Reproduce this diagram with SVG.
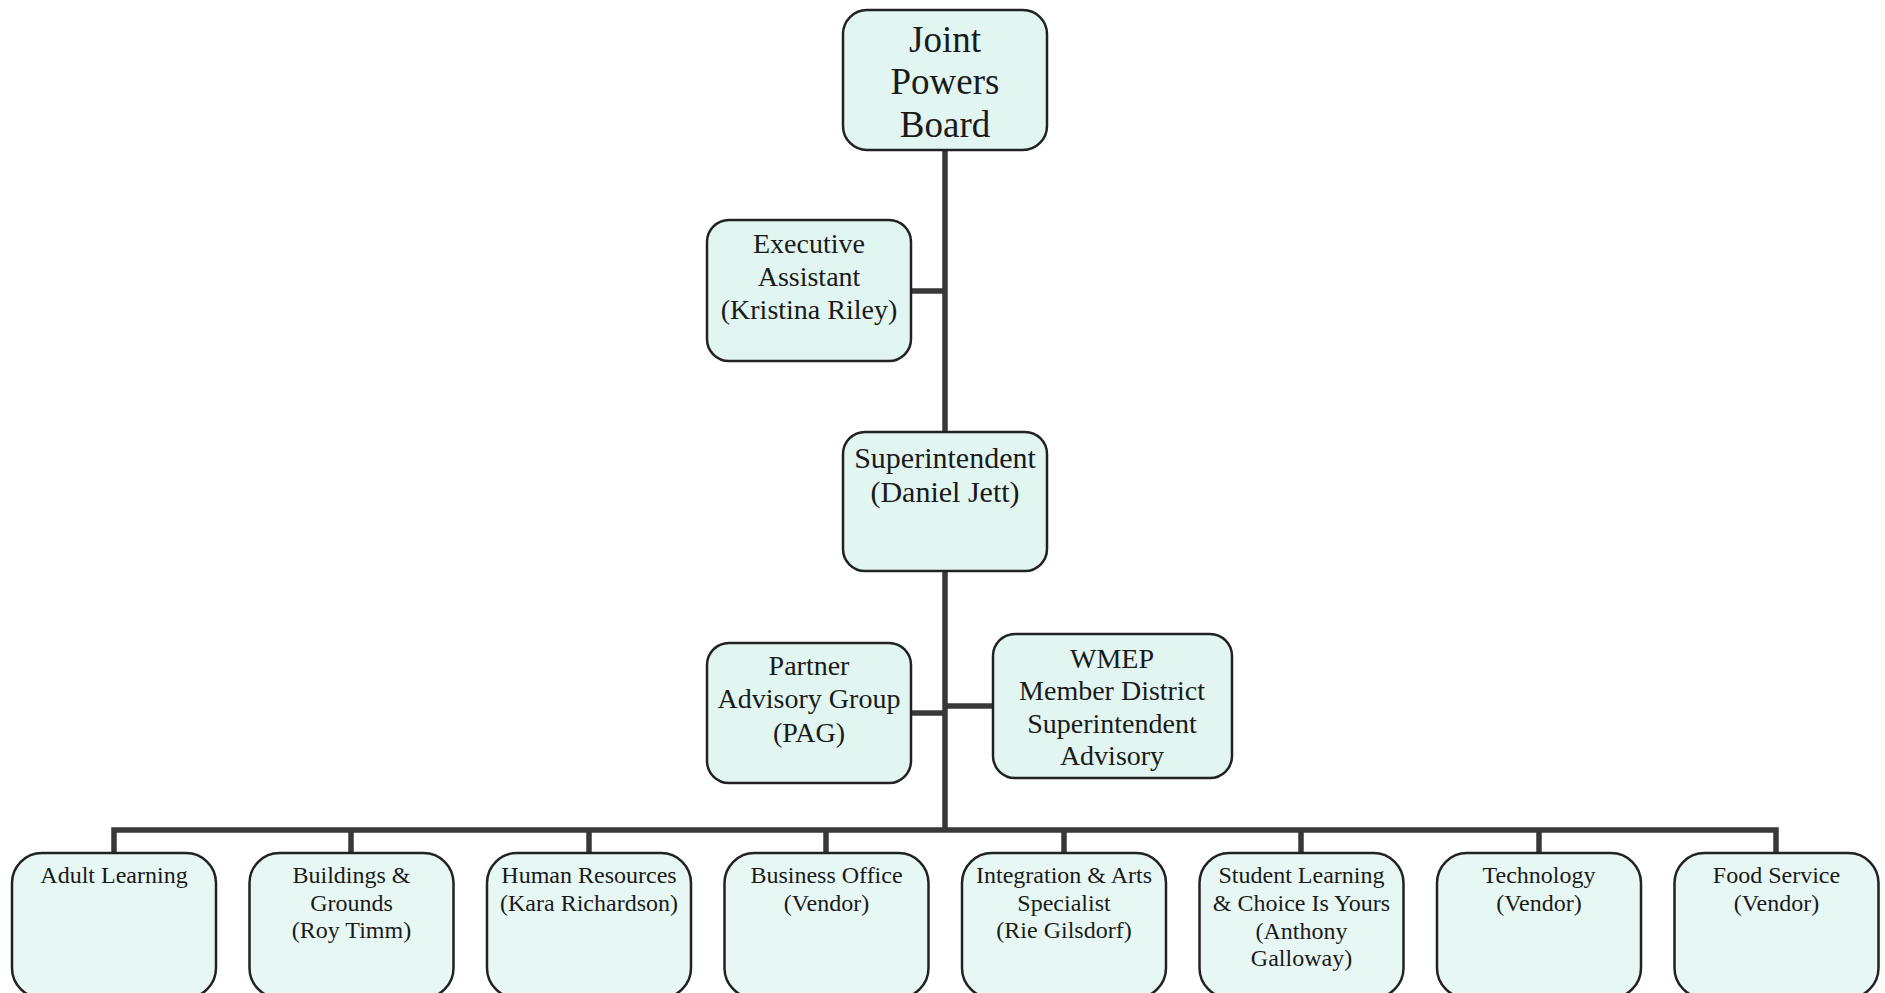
<svg xmlns="http://www.w3.org/2000/svg" width="1885" height="993" viewBox="0 0 1885 993">
<style>
.box{fill:#E1F5F1;stroke:#222;stroke-width:2.5}
.bbox{fill:#E7F7F3;stroke:#222;stroke-width:2.5}
.t{font-family:"Liberation Serif","Times New Roman",serif;fill:#1a1a1a;text-anchor:middle}
.big{font-size:37px}
.mid{font-size:28px}
.sup{font-size:30px}
.sm{font-size:24px}
.c{stroke:#383838;stroke-width:5.5;fill:none}
</style>
<rect width="1885" height="993" fill="#ffffff"/>
<g id="connectors">
<line class="c" x1="945" y1="150" x2="945" y2="432"/>
<line class="c" x1="945" y1="571" x2="945" y2="830"/>
<line class="c" x1="911" y1="291" x2="945" y2="291"/>
<line class="c" x1="911" y1="713" x2="945" y2="713"/>
<line class="c" x1="945" y1="706" x2="993" y2="706"/>
<polyline class="c" points="114,853 114,830 1776,830 1776,853"/>
<line class="c" x1="351" y1="830" x2="351" y2="853"/>
<line class="c" x1="589" y1="830" x2="589" y2="853"/>
<line class="c" x1="826" y1="830" x2="826" y2="853"/>
<line class="c" x1="1064" y1="830" x2="1064" y2="853"/>
<line class="c" x1="1301" y1="830" x2="1301" y2="853"/>
<line class="c" x1="1539" y1="830" x2="1539" y2="853"/>
</g>
<g id="joint-powers-board">
<rect class="box" x="843" y="10" width="204" height="140" rx="24"/>
<text class="t big" x="945" y="52">Joint</text>
<text class="t big" x="945" y="94">Powers</text>
<text class="t big" x="945" y="137">Board</text>
</g>
<g id="executive-assistant">
<rect class="box" x="707" y="220" width="204" height="141" rx="22"/>
<text class="t mid" x="809" y="253">Executive</text>
<text class="t mid" x="809" y="286">Assistant</text>
<text class="t mid" x="809" y="319">(Kristina Riley)</text>
</g>
<g id="superintendent">
<rect class="box" x="843" y="432" width="204" height="139" rx="22"/>
<text class="t sup" x="945" y="468">Superintendent</text>
<text class="t sup" x="945" y="502">(Daniel Jett)</text>
</g>
<g id="partner-advisory-group">
<rect class="box" x="707" y="643" width="204" height="140" rx="22"/>
<text class="t mid" x="809" y="675">Partner</text>
<text class="t mid" x="809" y="708">Advisory Group</text>
<text class="t mid" x="809" y="742">(PAG)</text>
</g>
<g id="wmep-advisory">
<rect class="box" x="993" y="634" width="239" height="144" rx="22"/>
<text class="t mid" x="1112" y="668">WMEP</text>
<text class="t mid" x="1112" y="700">Member District</text>
<text class="t mid" x="1112" y="733">Superintendent</text>
<text class="t mid" x="1112" y="765">Advisory</text>
</g>
<g id="adult-learning">
<rect class="bbox" x="12" y="853" width="204" height="145" rx="30"/>
<text class="t sm" x="114" y="883">Adult Learning</text>
</g>
<g id="buildings-grounds">
<rect class="bbox" x="249.5" y="853" width="204" height="145" rx="30"/>
<text class="t sm" x="351.5" y="883">Buildings &amp;</text>
<text class="t sm" x="351.5" y="910.5">Grounds</text>
<text class="t sm" x="351.5" y="938">(Roy Timm)</text>
</g>
<g id="human-resources">
<rect class="bbox" x="487" y="853" width="204" height="145" rx="30"/>
<text class="t sm" x="589" y="883">Human Resources</text>
<text class="t sm" x="589" y="910.5">(Kara Richardson)</text>
</g>
<g id="business-office">
<rect class="bbox" x="724.5" y="853" width="204" height="145" rx="30"/>
<text class="t sm" x="826.5" y="883">Business Office</text>
<text class="t sm" x="826.5" y="910.5">(Vendor)</text>
</g>
<g id="integration-arts">
<rect class="bbox" x="962" y="853" width="204" height="145" rx="30"/>
<text class="t sm" x="1064" y="883">Integration &amp; Arts</text>
<text class="t sm" x="1064" y="910.5">Specialist</text>
<text class="t sm" x="1064" y="938">(Rie Gilsdorf)</text>
</g>
<g id="student-learning">
<rect class="bbox" x="1199.5" y="853" width="204" height="145" rx="30"/>
<text class="t sm" x="1301.5" y="883">Student Learning</text>
<text class="t sm" x="1301.5" y="911">&amp; Choice Is Yours</text>
<text class="t sm" x="1301.5" y="939">(Anthony</text>
<text class="t sm" x="1301.5" y="966">Galloway)</text>
</g>
<g id="technology">
<rect class="bbox" x="1437" y="853" width="204" height="145" rx="30"/>
<text class="t sm" x="1539" y="883">Technology</text>
<text class="t sm" x="1539" y="910.5">(Vendor)</text>
</g>
<g id="food-service">
<rect class="bbox" x="1674.5" y="853" width="204" height="145" rx="30"/>
<text class="t sm" x="1776.5" y="883">Food Service</text>
<text class="t sm" x="1776.5" y="910.5">(Vendor)</text>
</g>
</svg>
